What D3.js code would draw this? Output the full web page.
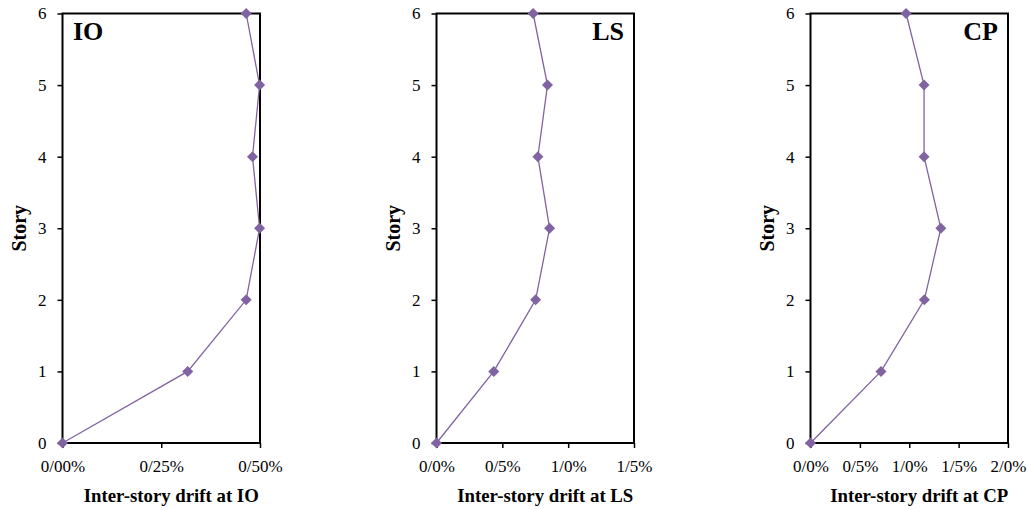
<!DOCTYPE html>
<html>
<head>
<meta charset="utf-8">
<script src="https://cdn.jsdelivr.net/npm/d3@7"></script>
<style>
  body { margin: 0; background: #fff; }
  svg { display: block; }
  text { font-family: "Liberation Serif", "Times New Roman", serif; fill: #000; }
</style>
</head>
<body>
<div id="chart"></div>
<script>
// stories (y axis)
const stories = [0, 1, 2, 3, 4, 5, 6];

// inter-story drift values (%) per performance level
const driftIO = [0, 0.317, 0.465, 0.499, 0.481, 0.499, 0.465];
const driftLS = [0, 0.435, 0.753, 0.859, 0.770, 0.843, 0.734];
const driftCP = [0, 0.714, 1.153, 1.32, 1.150, 1.15, 0.968];

// x tick values and labels (decimal mark is "/")
const ticksIO = [0, 0.25, 0.5];
const labelsIO = ['0/00%', '0/25%', '0/50%'];
const ticksLS = [0, 0.5, 1.0, 1.5];
const labelsLS = ['0/0%', '0/5%', '1/0%', '1/5%'];
const ticksCP = [0, 0.5, 1.0, 1.5, 2.0];
const labelsCP = ['0/0%', '0/5%', '1/0%', '1/5%', '2/0%'];

const panels = [
  { name: 'IO', values: driftIO, max: 0.5, ticks: ticksIO, labels: labelsIO, left: 62.5, titleSide: 'left' },
  { name: 'LS', values: driftLS, max: 1.5, ticks: ticksLS, labels: labelsLS, left: 436.5, titleSide: 'right' },
  { name: 'CP', values: driftCP, max: 2.0, ticks: ticksCP, labels: labelsCP, left: 810.5, titleSide: 'right' }
];

const W = 1028, H = 510;
const plotW = 197.5;
const plotTop = 13.5, plotBottom = 443;
const purple = '#8064A2';

const svg = d3.select('#chart').append('svg')
  .attr('width', W)
  .attr('height', H);

const y = d3.scaleLinear().domain([0, 6]).range([plotBottom, plotTop]);

panels.forEach(function(p) {
  const x = d3.scaleLinear().domain([0, p.max]).range([p.left, p.left + plotW]);
  const g = svg.append('g').classed('panel-' + p.name, true);

  // plot frame
  g.append('rect')
    .attr('x', p.left).attr('y', plotTop)
    .attr('width', plotW).attr('height', plotBottom - plotTop)
    .attr('fill', 'none').attr('stroke', '#000').attr('stroke-width', 2);

  // y axis
  const yAx = d3.axisLeft(y).tickValues(stories).tickFormat(d3.format('d')).tickSize(5).tickPadding(11);
  const yg = g.append('g').attr('transform', 'translate(' + p.left + ',0)').call(yAx);
  yg.attr('font-size', null).attr('font-family', null);
  yg.select('.domain').remove();
  yg.selectAll('.tick line').attr('stroke', '#000').attr('stroke-width', 1.5);
  yg.selectAll('.tick text').style('font-size', '17px');

  // x axis
  const xAx = d3.axisBottom(x).tickValues(p.ticks).tickFormat(function(d, i) { return p.labels[i]; }).tickSize(5).tickPadding(12);
  const xg = g.append('g').attr('transform', 'translate(0,' + plotBottom + ')').call(xAx);
  xg.attr('font-size', null).attr('font-family', null);
  xg.select('.domain').remove();
  xg.selectAll('.tick line').attr('stroke', '#000').attr('stroke-width', 1.5);
  xg.selectAll('.tick text').style('font-size', '17px');

  // axis titles
  g.append('text')
    .attr('x', p.left + plotW / 2 + 10).attr('y', 502)
    .attr('text-anchor', 'middle')
    .style('font-size', '18.8px').style('font-weight', 'bold')
    .text('Inter-story drift at ' + p.name);
  g.append('text')
    .attr('transform', 'translate(' + (p.left - 37) + ',' + (plotTop + plotBottom) / 2 + ') rotate(-90)')
    .attr('text-anchor', 'middle')
    .style('font-size', '20px').style('font-weight', 'bold')
    .text('Story');

  // panel label
  g.append('text')
    .attr('x', p.titleSide === 'left' ? p.left + 10.5 : p.left + plotW - 10)
    .attr('y', 40)
    .attr('text-anchor', p.titleSide === 'left' ? 'start' : 'end')
    .style('font-size', '26px').style('font-weight', 'bold')
    .text(p.name);

  // line
  const line = d3.line()
    .x(function(d) { return x(d); })
    .y(function(d, i) { return y(stories[i]); });
  g.append('path')
    .datum(p.values)
    .attr('d', line)
    .attr('fill', 'none')
    .attr('stroke', purple)
    .attr('stroke-width', 1.3);

  // diamond markers
  g.selectAll('.marker')
    .data(p.values)
    .enter()
    .append('path')
    .attr('class', 'marker')
    .attr('d', d3.symbol().type(d3.symbolDiamond2).size(78))
    .attr('transform', function(d, i) { return 'translate(' + x(d) + ',' + y(stories[i]) + ')'; })
    .attr('fill', purple);
});
</script>
</body>
</html>
